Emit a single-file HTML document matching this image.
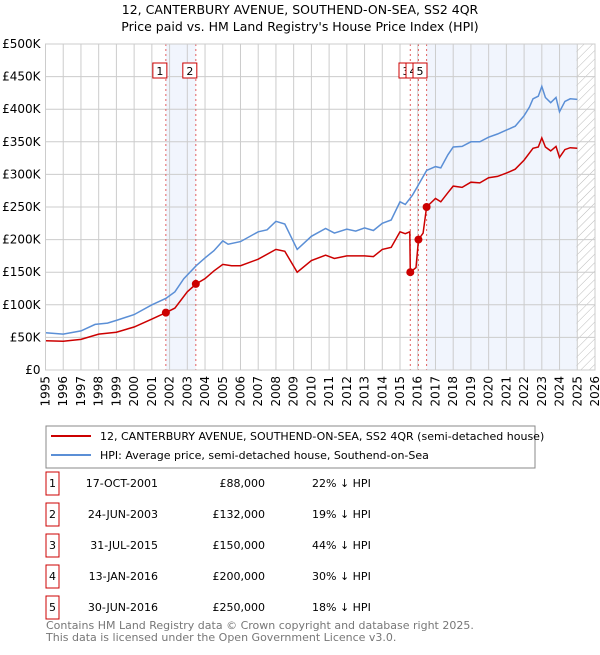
<!DOCTYPE html>
<html><head><meta charset="utf-8"><style>
body{margin:0;background:#fff;font-family:"Liberation Sans","DejaVu Sans",sans-serif;}
svg text{font-family:"DejaVu Sans","Liberation Sans",sans-serif;}
</style></head><body>
<svg id="c" width="600" height="650" xmlns="http://www.w3.org/2000/svg">
<defs><pattern id="hatch" width="6" height="6" patternUnits="userSpaceOnUse" patternTransform="rotate(45)"><line x1="0" y1="0" x2="0" y2="6" stroke="#bbb" stroke-width="1"/></pattern></defs>
<text x="300" y="14" text-anchor="middle" font-size="12.5">12, CANTERBURY AVENUE, SOUTHEND-ON-SEA, SS2 4QR</text>
<text x="300" y="31" text-anchor="middle" font-size="12.5">Price paid vs. HM Land Registry's House Price Index (HPI)</text>
<g id="plot"></g>
<rect x="46" y="426" width="489" height="42" fill="#fff" stroke="#888"/>
<line x1="51" y1="436" x2="91" y2="436" stroke="#cc0000" stroke-width="2"/>
<text x="100" y="440" font-size="11">12, CANTERBURY AVENUE, SOUTHEND-ON-SEA, SS2 4QR (semi-detached house)</text>
<line x1="51" y1="455" x2="91" y2="455" stroke="#5b8fd6" stroke-width="2"/>
<text x="100" y="459" font-size="11">HPI: Average price, semi-detached house, Southend-on-Sea</text>
<g id="table"></g>
<text x="46" y="629" font-size="11" fill="#777">Contains HM Land Registry data © Crown copyright and database right 2025.</text>
<text x="46" y="641" font-size="11" fill="#777">This data is licensed under the Open Government Licence v3.0.</text>
</svg>
<script>
const hpiYears=[1995,1996,1997,1997.8,1998.5,1999,2000,2001,2001.8,2002.3,2002.8,2003.5,2004,2004.5,2005,2005.3,2006,2007,2007.5,2008,2008.5,2009.2,2010,2010.8,2011.3,2012,2012.5,2013,2013.5,2014,2014.5,2015,2015.3,2015.7,2016,2016.5,2017,2017.3,2017.7,2018,2018.5,2019,2019.5,2020,2020.5,2021,2021.5,2022,2022.3,2022.5,2022.8,2023,2023.2,2023.5,2023.8,2024,2024.3,2024.6,2025];
const hpiValues=[57,55,60,70,72,76,85,100,110,120,140,160,172,183,198,193,197,212,215,228,224,185,205,217,210,216,213,218,214,225,230,258,254,268,282,306,312,310,330,342,343,350,350,357,362,368,374,390,403,416,420,435,418,410,418,396,412,416,415];
const propYears=[1995,1996,1997,1998,1999,2000,2001,2001.8,2002.3,2003,2003.5,2004,2004.5,2005,2005.5,2006,2007,2008,2008.5,2009.2,2010,2010.8,2011.3,2012,2013,2013.5,2014,2014.5,2015,2015.3,2015.55,2015.58,2015.9,2016.04,2016.3,2016.5,2017,2017.3,2017.7,2018,2018.5,2019,2019.5,2020,2020.5,2021,2021.5,2022,2022.5,2022.8,2023,2023.2,2023.5,2023.8,2024,2024.3,2024.6,2025];
const propValues=[45,44,47,55,58,66,78,88,95,120,132,140,152,162,160,160,170,185,182,150,168,176,171,175,175,174,185,188,212,209,212,150,157,200,210,250,263,258,272,282,280,288,287,295,297,302,308,322,340,342,356,342,336,343,326,338,341,340];
const saleLabels=["1","2","3","4","5"];
const saleDates=["17-OCT-2001","24-JUN-2003","31-JUL-2015","13-JAN-2016","30-JUN-2016"];
const saleYears=[2001.79,2003.48,2015.58,2016.04,2016.5];
const salePrices=[88000,132000,150000,200000,250000];
const salePriceText=["£88,000","£132,000","£150,000","£200,000","£250,000"];
const saleHpiText=["22% ↓ HPI","19% ↓ HPI","44% ↓ HPI","30% ↓ HPI","18% ↓ HPI"];
const yTicks=[0,50,100,150,200,250,300,350,400,450,500];
const xTicks=[1995,1996,1997,1998,1999,2000,2001,2002,2003,2004,2005,2006,2007,2008,2009,2010,2011,2012,2013,2014,2015,2016,2017,2018,2019,2020,2021,2022,2023,2024,2025,2026];

const NS="http://www.w3.org/2000/svg";
const X0=45.5,X1=595,Y0=370,Y1=44;
const xs=y=>X0+(y-1995)/(2026-1995)*(X1-X0);
const ys=v=>Y0-v/500*(Y0-Y1);
const g=document.getElementById('plot');
function mk(tag,attrs,parent){const e=document.createElementNS(NS,tag);for(const k in attrs)e.setAttribute(k,attrs[k]);(parent||g).appendChild(e);return e;}
let s=mk('rect',{x:xs(saleYears[0]),y:Y1,width:xs(saleYears[1])-xs(saleYears[0]),height:Y0-Y1,fill:'#eef3fc',opacity:0.8});


s=mk('rect',{x:xs(saleYears[4]),y:Y1,width:xs(2025)-xs(saleYears[4]),height:Y0-Y1,fill:'#eef3fc',opacity:0.8});


s=mk('rect',{x:xs(2024.95),y:Y1,width:X1-xs(2024.95),height:Y0-Y1,fill:'url(#hatch)'});


yTicks.forEach(t=>{
 const l=mk('line',{x1:X0,x2:X1,y1:ys(t),y2:ys(t),stroke:'#ccc','stroke-width':1});
 
 
 const tx=mk('text',{x:X0-5,y:ys(t)+4,'text-anchor':'end','font-size':12});
 tx.textContent=t===0?'£0':'£'+t+'K';
 
 
});
xTicks.forEach(t=>{
 const l=mk('line',{x1:xs(t),x2:xs(t),y1:Y1,y2:Y0,stroke:'#ccc','stroke-width':1});
 
 
 const tx=mk('text',{x:0,y:0,'text-anchor':'end','font-size':12,transform:`translate(${xs(t)+4},${Y0+6}) rotate(-90)`});
 tx.textContent=t;
 
 
});
saleYears.forEach((y,i)=>{
 const l=mk('line',{x1:xs(y),x2:xs(y),y1:Y1,y2:Y0,stroke:'#e06060','stroke-width':1,'stroke-dasharray':'2,3'});
 
 
});
function path(xa,va,col,name){
 const d=xa.map((x,i)=>(i?'L':'M')+xs(x).toFixed(1)+','+ys(va[i]).toFixed(1)).join('');
 const p=mk('path',{d:d,fill:'none',stroke:col,'stroke-width':1.5});
 
 
}
path(hpiYears,hpiValues,'#5b8fd6','hpi-line');
path(propYears,propValues,'#cc0000','property-line');
saleYears.forEach((y,i)=>{
 const c=mk('circle',{cx:xs(y),cy:ys(salePrices[i]/1000),r:4,fill:'#cc0000'});
 
 
});
const boxX=[xs(saleYears[0])-13,xs(saleYears[1])-13,399,406,413];
[0,1,2,3,4].forEach(i=>{
 const b=mk('rect',{x:boxX[i],y:63,width:14,height:15,fill:'#fff',stroke:'#cc0000'});
 
 
 const t=mk('text',{x:boxX[i]+7,y:75,'text-anchor':'middle','font-size':11});
 t.textContent=saleLabels[i];
 
 
});
mk('rect',{x:X0,y:Y1,width:X1-X0,height:Y0-Y1,fill:'none',stroke:'#ccc'});
const tg=document.getElementById('table');
const rowY=[483,514,545,576,607];
rowY.forEach((y,i)=>{
 const b=mk('rect',{x:46,y:y-11,width:13,height:23,fill:'#fff',stroke:'#cc0000'},tg);
 
 
 const cells=[[52.5,'middle',saleLabels[i]],[158,'end',saleDates[i]],[265,'end',salePriceText[i]],[312,'start',saleHpiText[i]]];
 cells.forEach((c,j)=>{
  const t=mk('text',{x:c[0],y:y+4,'text-anchor':c[1],'font-size':11},tg);
  t.textContent=c[2];
  
  
 });
});
</script>
</body></html>
